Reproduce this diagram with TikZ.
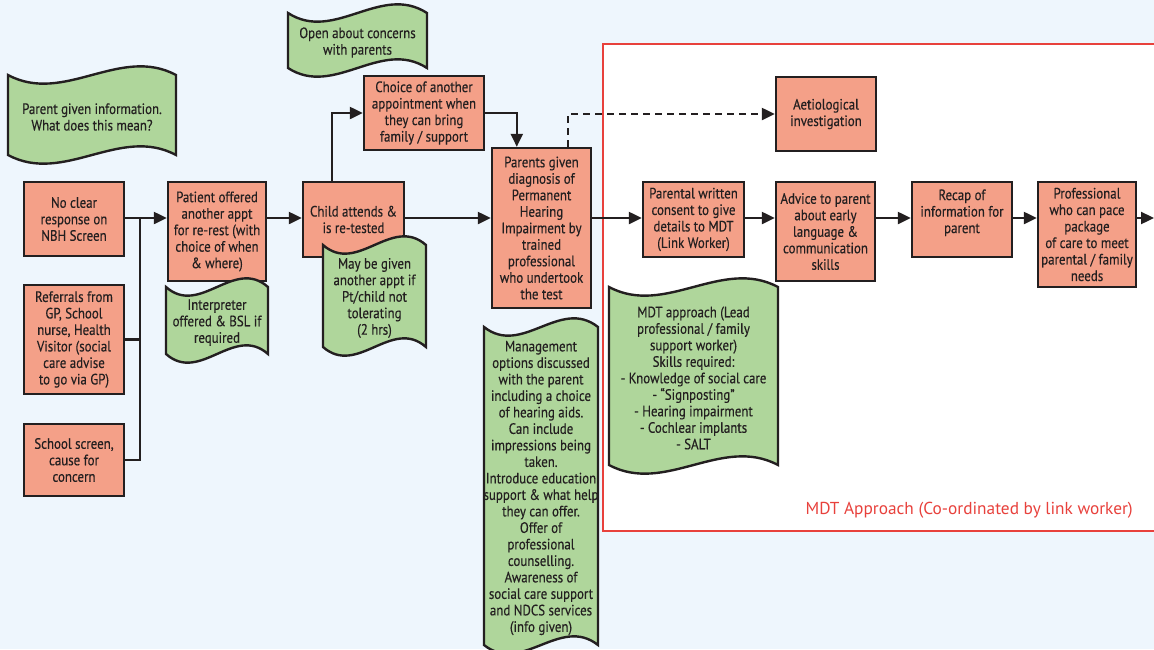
\documentclass[tikz,border=0pt]{standalone}
\usepackage{fontspec}
\setmainfont{PT Sans}[FakeStretch=0.86,FakeBold=0.3]
\newfontfamily\labelfont{PT Sans}
\usetikzlibrary{arrows.meta,calc}

\definecolor{pagebg}{HTML}{EEF6FD}
\definecolor{salmon}{HTML}{F4A088}
\definecolor{notegreen}{HTML}{AFD69B}
\definecolor{ink}{HTML}{231F20}
\definecolor{mdtred}{HTML}{E8413C}

\newcommand\boxfont{\fontsize{15}{16.5}\selectfont}
\def\wamp{30}

% rectangular step given by its corners
\newcommand\cbox[6]{%
  \pgfmathsetmacro\cbw{#4-#2-2}%
  \pgfmathsetmacro\cbh{#5-#3-2}%
  \node[stepbox, minimum width=\cbw pt, minimum height=\cbh pt] (#1)
    at ({(#2+#4)/2},{(#3+#5)/2}) {#6};%
}

% wavy note given by its corners
\newcommand\wnote[6]{%
  \pgfmathsetmacro\wxa{#2+(#4-#2)/3}%
  \pgfmathsetmacro\wxb{#2+2*(#4-#2)/3}%
  \filldraw[notepath] (#2,#3) .. controls (\wxa,#3+\wamp) and (\wxb,#3-\wamp) .. (#4,#3)
    -- (#4,#5) .. controls (\wxb,#5-\wamp) and (\wxa,#5+\wamp) .. (#2,#5) -- cycle;%
  \node[notetext] (#1) at ({(#2+#4)/2},{(#3+#5)/2+2}) {#6};%
}

\tikzset{
  stepbox/.style={draw=ink, fill=salmon, line width=2.4pt, align=center,
    inner sep=0pt, font=\boxfont, text=ink},
  notepath/.style={draw=ink, fill=notegreen, line width=2.4pt, line join=miter},
  notetext/.style={align=center, inner sep=0pt, font=\boxfont, text=ink},
  conn/.style={draw=ink, line width=2.3pt,
    -{Triangle[length=13pt,width=12pt]}},
  link/.style={draw=ink, line width=2.3pt},
  dashlink/.style={conn, dash pattern=on 7pt off 5pt},
  mdtlabel/.style={text=mdtred, font=\labelfont\fontsize{17.3}{19}\selectfont, inner sep=0pt},
}

\begin{document}
\begin{tikzpicture}[x=1pt,y=-1pt]
\useasboundingbox (0,0) rectangle (1154,649);
\clip (0,0) rectangle (1154,649);
\fill[pagebg] (0,0) rectangle (1154,649);

% MDT frame
\filldraw[draw=mdtred, fill=white, line width=2pt] (603,44) rectangle (1180,531);
\node[mdtlabel, anchor=east] (mdtcaption) at (1133,510) {MDT Approach (Co-ordinated by link worker)};

% steps
\cbox{nbh}{23}{181}{125}{257}{No clear\\response on\\NBH Screen}
\cbox{referral}{23}{284}{125}{395}{Referrals from\\GP, School\\nurse, Health\\Visitor (social\\care advise\\to go via GP)}
\cbox{school}{23}{423}{125}{497}{School screen,\\cause for\\concern}
\cbox{patient}{167}{181}{267}{282}{Patient offered\\another appt\\for re-rest (with\\choice of when\\\& where)}
\cbox{child}{302}{181}{405}{258}{Child attends \&\\is re-tested}
\cbox{choice}{363}{75}{485}{151}{Choice of another\\appointment when\\they can bring\\family / support}
\cbox{parents}{491}{147}{592}{309}{Parents given\\diagnosis of\\Permanent\\Hearing\\Impairment by\\trained\\professional\\who undertook\\the test}
\cbox{aet}{775}{76}{877}{152}{Aetiological\\investigation}
\cbox{consent}{642}{181}{745}{258}{Parental written\\consent to give\\details to MDT\\(Link Worker)}
\cbox{advice}{775}{181}{876}{282}{Advice to parent\\about early\\language \&\\communication\\skills}
\cbox{recap}{911}{181}{1013}{258}{Recap of\\information for\\parent\\\mbox{}}
\cbox{pace}{1037}{181}{1137}{288}{Professional\\who can pace\\package\\of care to meet\\parental / family\\needs}

% connectors
\coordinate (row) at (0,218);
\coordinate (merge) at (140,218);
\coordinate (exit) at (1154,218);
\draw[link] (referral.east) -| (merge);
\draw[link] (school.east) -| (merge);
\draw[conn] (nbh.east |- row) -- (patient.west |- row);
\draw[conn] (patient.east |- row) -- (child.west |- row);
\draw[conn] (child.east |- row) -- (parents.west |- row);
\draw[conn] ($(child.north west)+(30,0)$) |- (choice.west);
\draw[conn] (choice.east) -| ($(parents.north west)+(26,0)$);
\draw[dashlink] ($(parents.north west)+(77,0)$) |- (aet.west);
\draw[conn] (parents.east |- row) -- (consent.west |- row);
\draw[conn] (consent.east |- row) -- (advice.west |- row);
\draw[conn] (advice.east |- row) -- (recap.west |- row);
\draw[conn] (recap.east |- row) -- (pace.west |- row);
\draw[conn] (pace.east |- row) -- (exit);

% notes
\wnote{info}{8}{75}{176}{155}{Parent given information.\\What does this mean?}
\wnote{openness}{288}{13}{427}{68}{Open about concerns\\with parents}
\wnote{interp}{166}{287}{268}{354}{Interpreter\\offered \& BSL if\\required}
\wnote{tolerate}{323}{245}{426}{347}{May be given\\another appt if\\Pt/child not\\tolerating\\(2 hrs)}
\wnote{manage}{484}{327}{598}{645}{Management\\options discussed\\with the parent\\including a choice\\of hearing aids.\\Can include\\impressions being\\taken.\\Introduce education\\support \& what help\\they can offer.\\Offer of\\professional\\counselling.\\Awareness of\\social care support\\and NDCS services\\(info given)}
\wnote{mdt}{609}{287}{778}{465}{MDT approach (Lead\\professional / family\\support worker)\\Skills required:\\- Knowledge of social care\\- “Signposting”\\- Hearing impairment\\- Cochlear implants\\- SALT}
\end{tikzpicture}
\end{document}
